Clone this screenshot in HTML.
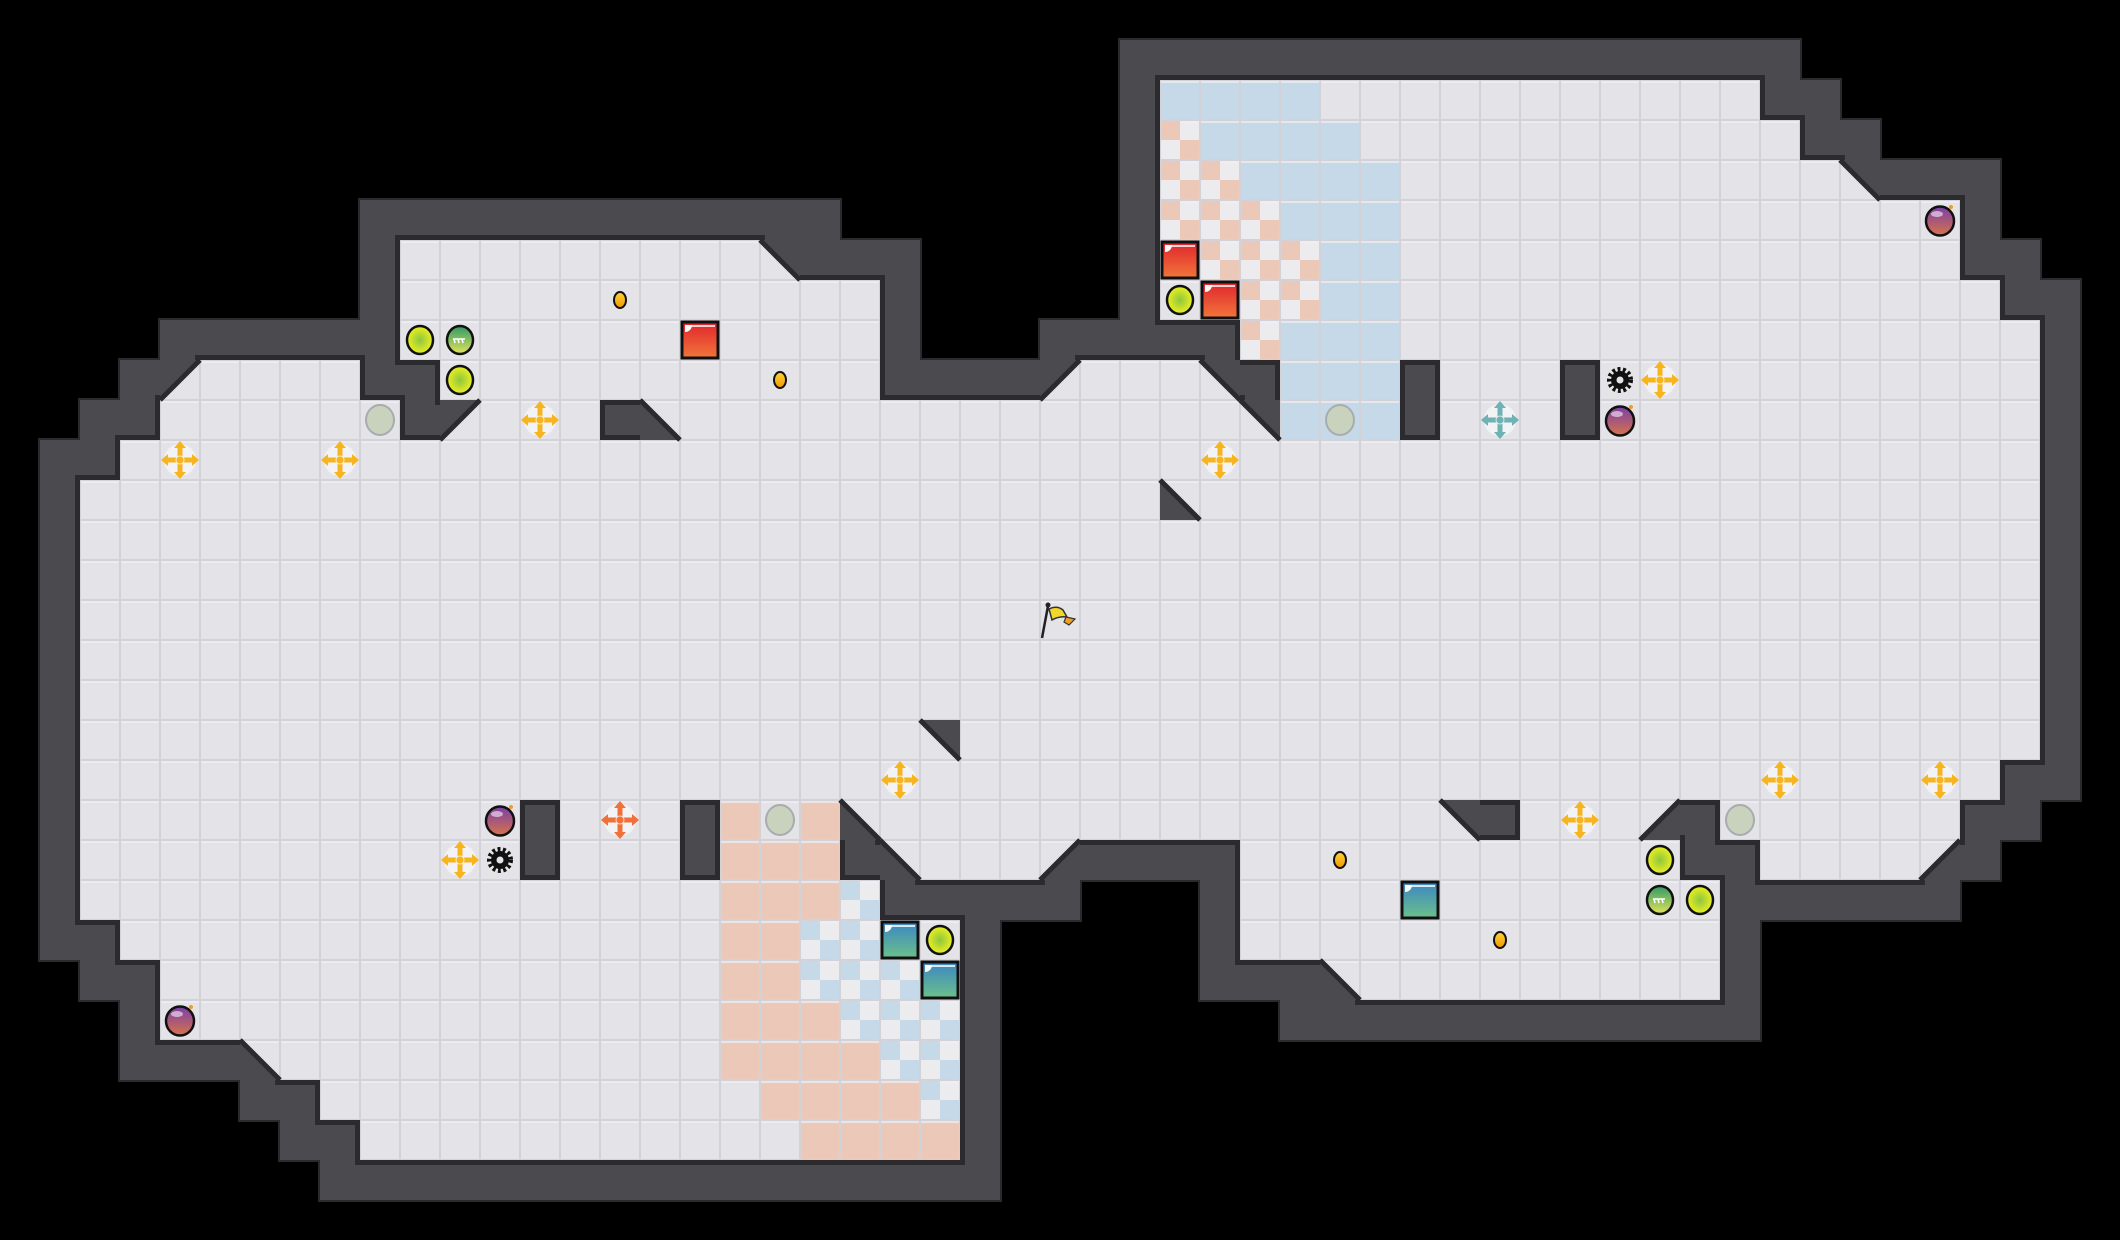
<!DOCTYPE html>
<html><head><meta charset="utf-8"><style>html,body{margin:0;padding:0;background:#000;width:2120px;height:1240px;overflow:hidden}svg{display:block}</style></head>
<body>
<svg id="s" width="2120" height="1240" xmlns="http://www.w3.org/2000/svg">
<defs>
<radialGradient id="gy" cx="50%" cy="50%" r="50%"><stop offset="0" stop-color="#8cc63f"/><stop offset="1" stop-color="#eef020"/></radialGradient>
<linearGradient id="gg" x1="0" y1="0" x2="0" y2="1"><stop offset="0" stop-color="#2f9a66"/><stop offset="1" stop-color="#e3e35a"/></linearGradient>
<linearGradient id="gr" x1="0" y1="0" x2="0" y2="1"><stop offset="0" stop-color="#e0242e"/><stop offset="1" stop-color="#f2763a"/></linearGradient>
<linearGradient id="gt" x1="0" y1="0" x2="0" y2="1"><stop offset="0" stop-color="#3a86c4"/><stop offset="1" stop-color="#6cc08a"/></linearGradient>
<linearGradient id="gp" x1="0" y1="0" x2="0" y2="1"><stop offset="0" stop-color="#7a3fa8"/><stop offset="1" stop-color="#d8724a"/></linearGradient>
<linearGradient id="gc" x1="0" y1="0" x2="0" y2="1"><stop offset="0" stop-color="#ffd23a"/><stop offset="1" stop-color="#f09a00"/></linearGradient>
</defs>
<g id="m"></g>
</svg>
<script>
const T=40,g=[];for(let r=0;r<31;r++)g.push(Array(53).fill(' '));
function S(r,a,b,ch){for(let c=a;c<=b;c++)g[r][c]=ch;}
S(1,28,44,'#');
S(2,28,28,'#');S(2,29,43,'.');S(2,44,45,'#');
S(3,28,28,'#');S(3,29,44,'.');S(3,45,46,'#');
S(4,28,28,'#');S(4,29,45,'.');S(4,46,46,'p');S(4,47,49,'#');
S(5,9,20,'#');S(5,28,28,'#');S(5,29,48,'.');S(5,49,49,'#');
S(6,9,9,'#');S(6,10,18,'.');S(6,19,19,'p');S(6,20,22,'#');S(6,28,28,'#');S(6,29,48,'.');S(6,49,50,'#');
S(7,9,9,'#');S(7,10,21,'.');S(7,22,22,'#');S(7,28,28,'#');S(7,29,49,'.');S(7,50,51,'#');
S(8,4,9,'#');S(8,10,21,'.');S(8,22,22,'#');S(8,26,30,'#');S(8,31,50,'.');S(8,51,51,'#');
S(9,3,3,'#');S(9,4,4,'q');S(9,5,8,'.');S(9,9,10,'#');S(9,11,21,'.');S(9,22,25,'#');S(9,26,26,'q');S(9,27,29,'.');S(9,30,30,'p');S(9,31,31,'#');S(9,32,34,'.');S(9,35,35,'#');S(9,36,38,'.');S(9,39,39,'#');S(9,40,50,'.');S(9,51,51,'#');
S(10,2,3,'#');S(10,4,9,'.');S(10,10,10,'#');S(10,11,11,'q');S(10,12,14,'.');S(10,15,15,'#');S(10,16,16,'b');S(10,17,30,'.');S(10,31,31,'p');S(10,32,34,'.');S(10,35,35,'#');S(10,36,38,'.');S(10,39,39,'#');S(10,40,50,'.');S(10,51,51,'#');
S(11,1,2,'#');S(11,3,50,'.');S(11,51,51,'#');
for(let r=12;r<=18;r++){S(r,1,1,'#');S(r,2,50,'.');S(r,51,51,'#');}
S(12,29,29,'b');S(18,23,23,'p');
S(19,1,1,'#');S(19,2,49,'.');S(19,50,51,'#');
S(20,1,1,'#');S(20,2,48,'.');S(20,13,13,'#');S(20,17,17,'#');S(20,21,21,'b');S(20,36,36,'p');S(20,37,37,'#');S(20,41,41,'d');S(20,42,42,'#');S(20,49,50,'#');
S(21,1,1,'#');S(21,2,47,'.');S(21,13,13,'#');S(21,17,17,'#');S(21,21,21,'#');S(21,22,22,'b');S(21,26,26,'d');S(21,27,30,'#');S(21,42,43,'#');S(21,48,48,'d');S(21,49,49,'#');
S(22,1,1,'#');S(22,2,21,'.');S(22,22,26,'#');S(22,30,30,'#');S(22,31,42,'.');S(22,43,48,'#');
S(23,1,2,'#');S(23,3,23,'.');S(23,24,24,'#');S(23,30,30,'#');S(23,31,42,'.');S(23,43,43,'#');
S(24,2,3,'#');S(24,4,23,'.');S(24,24,24,'#');S(24,30,32,'#');S(24,33,33,'b');S(24,34,42,'.');S(24,43,43,'#');
S(25,3,3,'#');S(25,4,23,'.');S(25,24,24,'#');S(25,32,43,'#');
S(26,3,5,'#');S(26,6,6,'b');S(26,7,23,'.');S(26,24,24,'#');
S(27,6,7,'#');S(27,8,23,'.');S(27,24,24,'#');
S(28,7,8,'#');S(28,9,23,'.');S(28,24,24,'#');
S(29,8,24,'#');
let o='';const W='#4b4a4f',D='#2b2b2f',F='#e4e4e8',L='#d2d2d8';
const isF=ch=>ch!=' '&&ch!='#';
for(let r=0;r<31;r++)for(let c=0;c<53;c++)if(g[r][c]=='#')o+=`<rect x="${c*T-2}" y="${r*T-2}" width="44" height="44" fill="#2a2a2d"/>`;
for(let r=0;r<31;r++)for(let c=0;c<53;c++)if(g[r][c]=='#')o+=`<rect x="${c*T}" y="${r*T}" width="40" height="40" fill="${W}"/>`;
for(let r=0;r<31;r++)for(let c=0;c<53;c++)if(g[r][c]=='.')o+=`<rect x="${c*T-5}" y="${r*T-5}" width="50" height="50" fill="${D}"/>`;
function tile(c,r,col){o+=`<rect x="${c*T}" y="${r*T}" width="40" height="40" fill="${L}"/><rect x="${c*T+1}" y="${r*T+1}" width="38" height="38" fill="${col}"/><rect x="${c*T+1}" y="${r*T+1}" width="38" height="2" fill="#f0f0f3" opacity=".7"/>`;}
for(let r=0;r<31;r++)for(let c=0;c<53;c++)if(isF(g[r][c]))tile(c,r,F);
function chk(c,r,col){tile(c,r,'#ececef');o+=`<rect x="${c*T+1}" y="${r*T+1}" width="19" height="19" fill="${col}"/><rect x="${c*T+20}" y="${r*T+20}" width="19" height="19" fill="${col}"/>`;}
const B='#c5d9e9',SA='#ebc8b8';
function row(r,a,b,f){for(let c=a;c<=b;c++)f(c,r);}
const tb=(c,r)=>tile(c,r,B),ts=(c,r)=>tile(c,r,SA),cs=(c,r)=>chk(c,r,SA),cb=(c,r)=>chk(c,r,B);
row(2,29,32,tb);
row(3,29,29,cs);row(3,30,33,tb);
row(4,29,30,cs);row(4,31,34,tb);
row(5,29,31,cs);row(5,32,34,tb);
row(6,29,32,cs);row(6,33,34,tb);
row(7,30,32,cs);row(7,33,34,tb);
row(8,31,31,cs);row(8,32,34,tb);
row(9,32,34,tb);row(10,32,34,tb);
ts(18,20);ts(20,20);
row(21,18,20,ts);
row(22,18,20,ts);cb(21,22);
row(23,18,19,ts);row(23,20,21,cb);
row(24,18,19,ts);row(24,20,22,cb);
row(25,18,20,ts);row(25,21,23,cb);
row(26,18,21,ts);row(26,22,23,cb);
row(27,19,22,ts);cb(23,27);
row(28,20,23,ts);
// diagonals
for(let r=0;r<31;r++)for(let c=0;c<53;c++){const ch=g[r][c];if(!'qpbd'.includes(ch))continue;const x=c*T,y=r*T;let p,l;
if(ch=='q'){p=`${x},${y} ${x+40},${y} ${x},${y+40}`;l=[x+40,y,x,y+40];}
if(ch=='p'){p=`${x},${y} ${x+40},${y} ${x+40},${y+40}`;l=[x,y,x+40,y+40];}
if(ch=='b'){p=`${x},${y} ${x},${y+40} ${x+40},${y+40}`;l=[x,y,x+40,y+40];}
if(ch=='d'){p=`${x+40},${y} ${x+40},${y+40} ${x},${y+40}`;l=[x+40,y,x,y+40];}
o+=`<polygon points="${p}" fill="${W}"/><line x1="${l[0]}" y1="${l[1]}" x2="${l[2]}" y2="${l[3]}" stroke="${D}" stroke-width="5"/>`;}
const C=(c)=>c*T+20;
function ball(c,r){o+=`<ellipse cx="${C(c)}" cy="${C(r)}" rx="13" ry="14" fill="url(#gy)" stroke="#111" stroke-width="2.5"/>`;}
function gball(c,r){const x=C(c),y=C(r);o+=`<ellipse cx="${x}" cy="${y}" rx="13" ry="14" fill="url(#gg)" stroke="#111" stroke-width="2.5"/><path d="M${x-6} ${y-1}l1 4M${x-2} ${y-1}l1 4M${x+2} ${y-1}l1 4M${x-7} ${y-1}h12" stroke="#fff" stroke-width="1.6"/>`;}
function blk(c,r,gr){const x=C(c),y=C(r);o+=`<rect x="${x-18}" y="${y-18}" width="36" height="36" fill="url(#${gr})" stroke="#111" stroke-width="3"/><path d="M${x-15} ${y-15}h7a7 7 0 0 1-7 7z" fill="#fff"/><rect x="${x-15}" y="${y-15}" width="30" height="2" fill="#fff" opacity=".8"/>`;}
function coin(c,r){o+=`<ellipse cx="${C(c)}" cy="${C(r)}" rx="6" ry="8" fill="url(#gc)" stroke="#111" stroke-width="2"/>`;}
function grey(c,r){o+=`<ellipse cx="${C(c)}" cy="${C(r)}" rx="14" ry="15" fill="#c8d2bd" stroke="#a8acae" stroke-width="2"/>`;}
function bomb(c,r){const x=C(c),y=C(r);o+=`<ellipse cx="${x}" cy="${y+1}" rx="14" ry="14.5" fill="url(#gp)" stroke="#111" stroke-width="2.5"/><ellipse cx="${x-3}" cy="${y-6}" rx="6" ry="3" fill="#fff" opacity=".55"/><circle cx="${x+11}" cy="${y-13}" r="2" fill="#f39a2a"/>`;}
function cross(c,r,col){const x=C(c),y=C(r);o+=`<circle cx="${x}" cy="${y}" r="16" fill="#f6f6f8" opacity=".8"/><path d="M${x-13} ${y}H${x+13}M${x} ${y-13}V${y+13}" stroke="${col}" stroke-width="5"/><circle cx="${x}" cy="${y}" r="4" fill="none" stroke="#fff" stroke-width="1" opacity=".7"/><path d="M${x} ${y-19}l-6 7h12zM${x} ${y+19}l-6 -7h12zM${x-19} ${y}l7 -6v12zM${x+19} ${y}l-7 -6v12z" fill="${col}"/>`;}
function gear(c,r){const x=C(c),y=C(r);o+=`<circle cx="${x}" cy="${y}" r="10.5" fill="none" stroke="#111" stroke-width="5" stroke-dasharray="2.8 2.4"/><circle cx="${x}" cy="${y}" r="9" fill="#111"/><circle cx="${x}" cy="${y}" r="3.5" fill="#e4e4e8"/>`;}
const Y='#f6b51e';
coin(15,7);ball(10,8);gball(11,8);ball(11,9);blk(17,8,'gr');coin(19,9);grey(9,10);cross(13,10,Y);cross(4,11,Y);cross(8,11,Y);
blk(29,6,'gr');blk(30,7,'gr');ball(29,7);grey(33,10);cross(37,10,'#6fb2b4');gear(40,9);cross(41,9,Y);bomb(40,10);bomb(48,5);cross(30,11,Y);
cross(22,19,Y);cross(44,19,Y);cross(48,19,Y);cross(39,20,Y);bomb(12,20);cross(15,20,'#f0703a');grey(19,20);cross(11,21,Y);gear(12,21);
coin(33,21);blk(35,22,'gt');coin(37,23);ball(41,21);gball(41,22);ball(42,22);grey(43,20);
blk(22,23,'gt');blk(23,24,'gt');ball(23,23);bomb(4,25);
o+=`<line x1="1048" y1="606" x2="1042" y2="638" stroke="#222" stroke-width="2.5"/><circle cx="1048" cy="605" r="2.5" fill="#222"/><path d="M1049 609q8-4 14 1l4 7q-8-1-15 3z" fill="#f3d62a" stroke="#333" stroke-width="1.5"/><path d="M1066 617l9 2-6 6-5-3z" fill="#f0a020" stroke="#333" stroke-width="1.2"/>`;
document.getElementById('m').innerHTML=o;
</script>
</body></html>
